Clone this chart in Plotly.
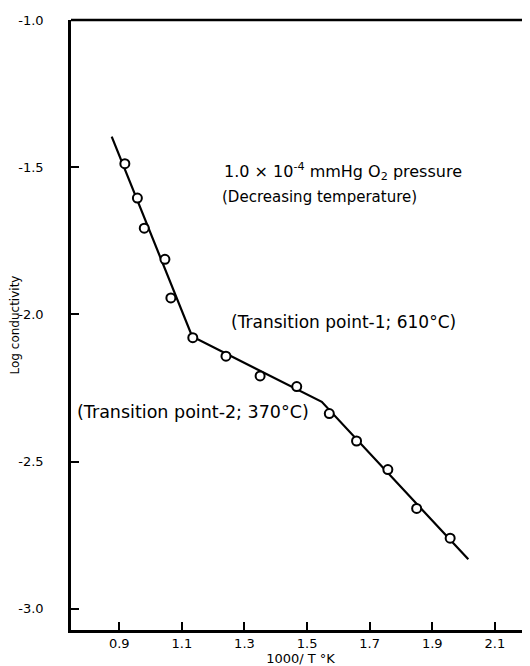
import plotly.graph_objects as go

# Measured data points (1000/T in K^-1, log conductivity)
inv_T = [0.918, 0.958, 0.980, 1.046, 1.065, 1.135, 1.241, 1.350, 1.467,
         1.571, 1.658, 1.758, 1.850, 1.957]
log_sigma = [-1.488, -1.605, -1.707, -1.813, -1.944, -2.079, -2.142, -2.209,
             -2.245, -2.337, -2.430, -2.527, -2.659, -2.760]

# Fitted broken line
fit_x = [0.876, 1.133, 1.547, 2.015]
fit_y = [-1.396, -2.075, -2.297, -2.832]

x_ticks = [0.9, 1.1, 1.3, 1.5, 1.7, 1.9, 2.1]
x_ticktext = ["0.9", "1.1", "1.3", "1.5", "1.7", "1.9", "2.1"]
y_ticks = [-1.0, -1.5, -2.0, -2.5, -3.0]
y_ticktext = ["-1.0", "-1.5", "-2.0", "-2.5", "-3.0"]

FONT = "DejaVu Sans"

fig = go.Figure()
fig.add_trace(go.Scatter(x=fit_x, y=fit_y, mode="lines",
                         line=dict(color="black", width=2.2),
                         showlegend=False, hoverinfo="skip"))
fig.add_trace(go.Scatter(x=inv_T, y=log_sigma, mode="markers",
                         marker=dict(symbol="circle", size=9, color="white",
                                     line=dict(color="black", width=2)),
                         showlegend=False))

annotations = [
    dict(x=0.329, y=0.752, size=16,
         text="1.0 × 10<sup>-4</sup> mmHg O<sub>2</sub> pressure"),
    dict(x=0.325, y=0.710, size=15, text="(Decreasing temperature)"),
    dict(x=0.344, y=0.505, size=17, text="(Transition point-1; 610°C)"),
    dict(x=0.009, y=0.357, size=17.5, text="(Transition point-2; 370°C)"),
]
for a in annotations:
    fig.add_annotation(xref="paper", yref="paper", x=a["x"], y=a["y"],
                       text=a["text"], showarrow=False,
                       xanchor="left", yanchor="middle",
                       font=dict(family=FONT, size=a["size"], color="black"))

# top border line
fig.add_shape(type="line", xref="paper", yref="paper", x0=0, x1=1, y0=1, y1=1,
              line=dict(color="black", width=2.5))

# page body has an 8px margin, so the figure is sized/offset to compensate
fig.update_layout(
    width=522, height=658,
    margin=dict(l=63, r=0, t=12, b=36),
    paper_bgcolor="white", plot_bgcolor="white",
    font=dict(family=FONT, size=12, color="black"),
    xaxis=dict(range=[0.746, 2.212], tickvals=x_ticks, ticktext=x_ticktext,
               ticks="inside", ticklen=8, tickwidth=2, tickcolor="black",
               showline=True, linecolor="black", linewidth=2.5,
               showgrid=False, zeroline=False,
               tickfont=dict(family=FONT, size=13),
               title=dict(text="1000/ T °K", standoff=0,
                          font=dict(family=FONT, size=13))),
    yaxis=dict(range=[-3.072, -1.0], tickvals=y_ticks, ticktext=y_ticktext,
               ticks="inside", ticklen=8, tickwidth=2, tickcolor="black",
               showline=True, linecolor="black", linewidth=2.5,
               showgrid=False, zeroline=False,
               ticklabelstandoff=22,
               tickfont=dict(family=FONT, size=13),
               title=dict(text="Log conductivity", standoff=2,
                          font=dict(family=FONT, size=12))),
)

fig.write_html("out.html")
